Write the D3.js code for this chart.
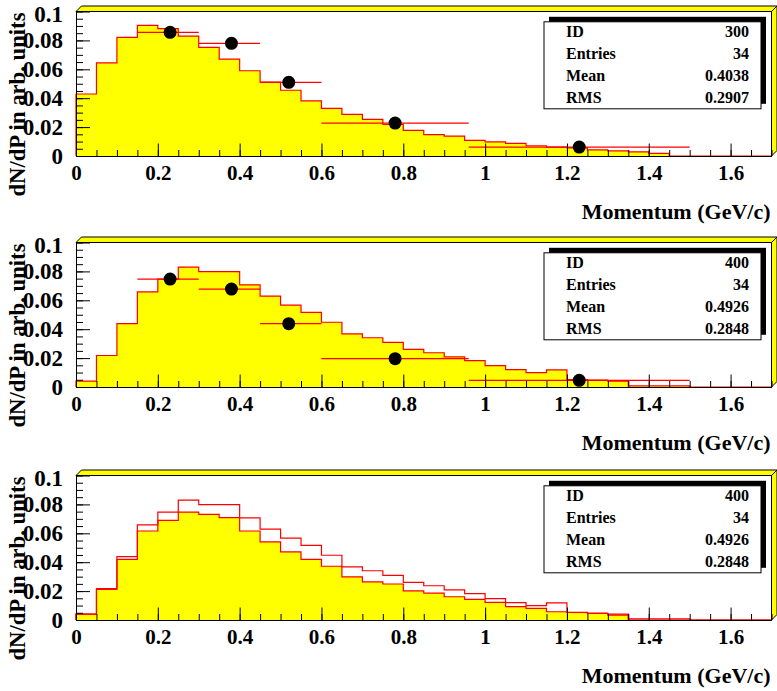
<!DOCTYPE html>
<html>
<head>
<meta charset="utf-8">
<script src="https://cdn.jsdelivr.net/npm/d3@7"></script>
<style>
  body { margin: 0; background: #fff; }
  svg { display: block; }
  text { font-family: "Liberation Serif", "Times New Roman", serif; font-weight: bold; fill: #000; }
</style>
</head>
<body>
<svg id="chart" width="777" height="691"></svg>
<script>
// Momentum bins: 34 bins of 0.05 GeV/c from 0 to 1.7
const binLow = d3.range(34).map(i => i * 0.05);

// Histogram 300 (first pad, filled)
const h300 = [0.0429, 0.0644, 0.0821, 0.0904, 0.0881, 0.0830, 0.0752, 0.0671, 0.0590, 0.0512,
              0.0455, 0.0381, 0.0330, 0.0288, 0.0254, 0.0218, 0.0177, 0.0148, 0.0138, 0.0108,
              0.0098, 0.0088, 0.0071, 0.0062, 0.0056, 0.0043, 0.0036, 0.0029, 0.0018, 0,
              0, 0, 0, 0];

// Histogram 400 (second pad filled, third pad outline)
const h400 = [0.0040, 0.0218, 0.0438, 0.0658, 0.0747, 0.0829, 0.0799, 0.0799, 0.0707, 0.0629,
              0.0566, 0.0517, 0.0448, 0.0368, 0.0341, 0.0309, 0.0261, 0.0237, 0.0209, 0.0183,
              0.0148, 0.0120, 0.0099, 0.0118, 0.0052, 0.0047, 0.0040, 0.0008, 0.0008, 0.0008,
              0, 0, 0, 0];

// Reference histogram filled in the third pad
const hRef = [0.0041, 0.0212, 0.0419, 0.0616, 0.0690, 0.0747, 0.0731, 0.0708, 0.0616, 0.0540,
              0.0471, 0.0420, 0.0372, 0.0299, 0.0264, 0.0249, 0.0201, 0.0186, 0.0161, 0.0143,
              0.0122, 0.0092, 0.0080, 0.0057, 0.0053, 0.0045, 0.0034, 0, 0, 0,
              0, 0, 0, 0];

// Measured points with horizontal bin widths
const ptX  = [0.23, 0.38, 0.52, 0.78, 1.23];
const ptLo = [0.15, 0.30, 0.45, 0.60, 0.96];
const ptHi = [0.30, 0.45, 0.60, 0.96, 1.50];
const pt300 = [0.0856, 0.0780, 0.0510, 0.0228, 0.0062];
const pt400 = [0.0747, 0.0678, 0.0438, 0.0196, 0.0046];

// Axis ticks
const xTicks = [0, 0.2, 0.4, 0.6, 0.8, 1, 1.2, 1.4, 1.6];
const yTicks = [0, 0.02, 0.04, 0.06, 0.08, 0.1];

// Statistics boxes
const statNames = ["ID", "Entries", "Mean", "RMS"];
const stat300 = ["300", "34", "0.4038", "0.2907"];
const stat400 = ["400", "34", "0.4926", "0.2848"];

const xTitle = "Momentum (GeV/c)";
const yTitle = "dN/dP in arb. units";

const svg = d3.select("#chart");
const padTops = [11.5, 242.5, 475.5];
const H = 144.5;
const X0 = 76, X1 = 771.5, DEPTH = 5.5;
const fmt = d => d === 0 ? "0" : d3.format("~g")(d);

const pads = [
  { fills: [h300], outlines: [], points: pt300, stats: stat300 },
  { fills: [h400], outlines: [], points: pt400, stats: stat400 },
  { fills: [hRef], outlines: [h400], points: null, stats: stat400 }
];

pads.forEach((pad, k) => {
  const top = padTops[k], bottom = top + H;
  const g = svg.append("g");
  const x = d3.scaleLinear().domain([0, 1.7]).range([X0, X1]);
  const y = d3.scaleLinear().domain([0, 0.1]).range([bottom, top]);

  // 3D frame decoration: top and right bevels
  g.append("polygon")
    .attr("points", [[X0, top], [X0 + DEPTH, top - DEPTH], [X1 + DEPTH, top - DEPTH], [X1, top]].join(" "))
    .attr("fill", "#ffff00").attr("stroke", "#000").attr("stroke-width", 1);
  g.append("polygon")
    .attr("points", [[X1, top], [X1 + DEPTH, top - DEPTH], [X1 + DEPTH, bottom - DEPTH], [X1, bottom]].join(" "))
    .attr("fill", "#ffff00").attr("stroke", "#000").attr("stroke-width", 1);

  const stepPts = h => [[0, 0], ...binLow.map((b, i) => [b, h[i]]), [1.7, h[h.length - 1]]];
  const area = d3.area().curve(d3.curveStepAfter)
    .x(d => x(d[0])).y0(y(0)).y1(d => y(d[1]));
  const line = d3.line().curve(d3.curveStepAfter)
    .x(d => x(d[0])).y(d => y(d[1]));

  pad.fills.forEach(h => {
    g.append("path").attr("d", area(stepPts(h))).attr("fill", "#ffff00");
    g.append("path").attr("d", line(stepPts(h)))
      .attr("fill", "none").attr("stroke", "#ff0000").attr("stroke-width", 1.2);
  });
  pad.outlines.forEach(h => {
    g.append("path").attr("d", line(stepPts(h)))
      .attr("fill", "none").attr("stroke", "#ff0000").attr("stroke-width", 1.2);
  });

  if (pad.points) {
    const pts = pad.points.map((v, i) => ({ x: ptX[i], lo: ptLo[i], hi: ptHi[i], v }));
    g.selectAll(".ebar").data(pts).join("line")
      .attr("x1", d => x(d.lo)).attr("x2", d => x(d.hi))
      .attr("y1", d => y(d.v)).attr("y2", d => y(d.v))
      .attr("stroke", "#ff0000").attr("stroke-width", 1.2);
    g.selectAll(".pt").data(pts).join("circle")
      .attr("cx", d => x(d.x)).attr("cy", d => y(d.v)).attr("r", 6.5)
      .attr("fill", "#000");
  }

  // Axes with inward ticks
  const gx = g.append("g").attr("transform", `translate(0,${bottom})`)
    .call(d3.axisBottom(x).tickValues(xTicks).tickSize(-12.5).tickSizeOuter(0).tickFormat(fmt));
  gx.selectAll("text").attr("y", 24).attr("dy", null).style("font-size", "21px");
  g.append("g").attr("transform", `translate(0,${bottom})`)
    .call(d3.axisBottom(x).tickValues(d3.range(35).map(i => i * 0.05)).tickSize(-6).tickFormat(""))
    .call(s => s.select(".domain").remove());

  const gy = g.append("g").attr("transform", `translate(${X0},0)`)
    .call(d3.axisLeft(y).tickValues(yTicks).tickSize(-14).tickSizeOuter(0).tickPadding(13).tickFormat(fmt));
  gy.selectAll("text").style("font-size", "23px")
    .attr("dy", d => d === 0.1 ? "0.45em" : "0.32em");
  g.append("g").attr("transform", `translate(${X0},0)`)
    .call(d3.axisLeft(y).tickValues(d3.range(21).map(i => i * 0.005)).tickSize(-7).tickFormat(""))
    .call(s => s.select(".domain").remove());

  // Frame top and right edges
  g.append("path")
    .attr("d", `M${X0},${top}H${X1}V${bottom}`)
    .attr("fill", "none").attr("stroke", "#000").attr("stroke-width", 1);

  // Statistics box with drop shadow
  const bx = 544, by = top + 10.3, bw = 217, bh = 87;
  g.append("rect").attr("x", bx + 5).attr("y", by - 5).attr("width", bw).attr("height", bh).attr("fill", "#000");
  g.append("rect").attr("x", bx).attr("y", by).attr("width", bw).attr("height", bh)
    .attr("fill", "#fff").attr("stroke", "#000").attr("stroke-width", 1);
  statNames.forEach((name, i) => {
    const ty = by + 15.5 + i * 22;
    g.append("text").attr("x", bx + 22).attr("y", ty).style("font-size", "16px").text(name);
    g.append("text").attr("x", bx + 205).attr("y", ty).attr("text-anchor", "end")
      .style("font-size", "16px").text(pad.stats[i]);
  });

  // Axis titles
  g.append("text").attr("x", X1 - 1).attr("y", bottom + 63).attr("text-anchor", "end")
    .style("font-size", "22px").text(xTitle);
  g.append("text").attr("transform", `translate(25,${top + 1}) rotate(-90)`)
    .attr("text-anchor", "end").style("font-size", "22.7px").text(yTitle);
});
</script>
</body>
</html>
